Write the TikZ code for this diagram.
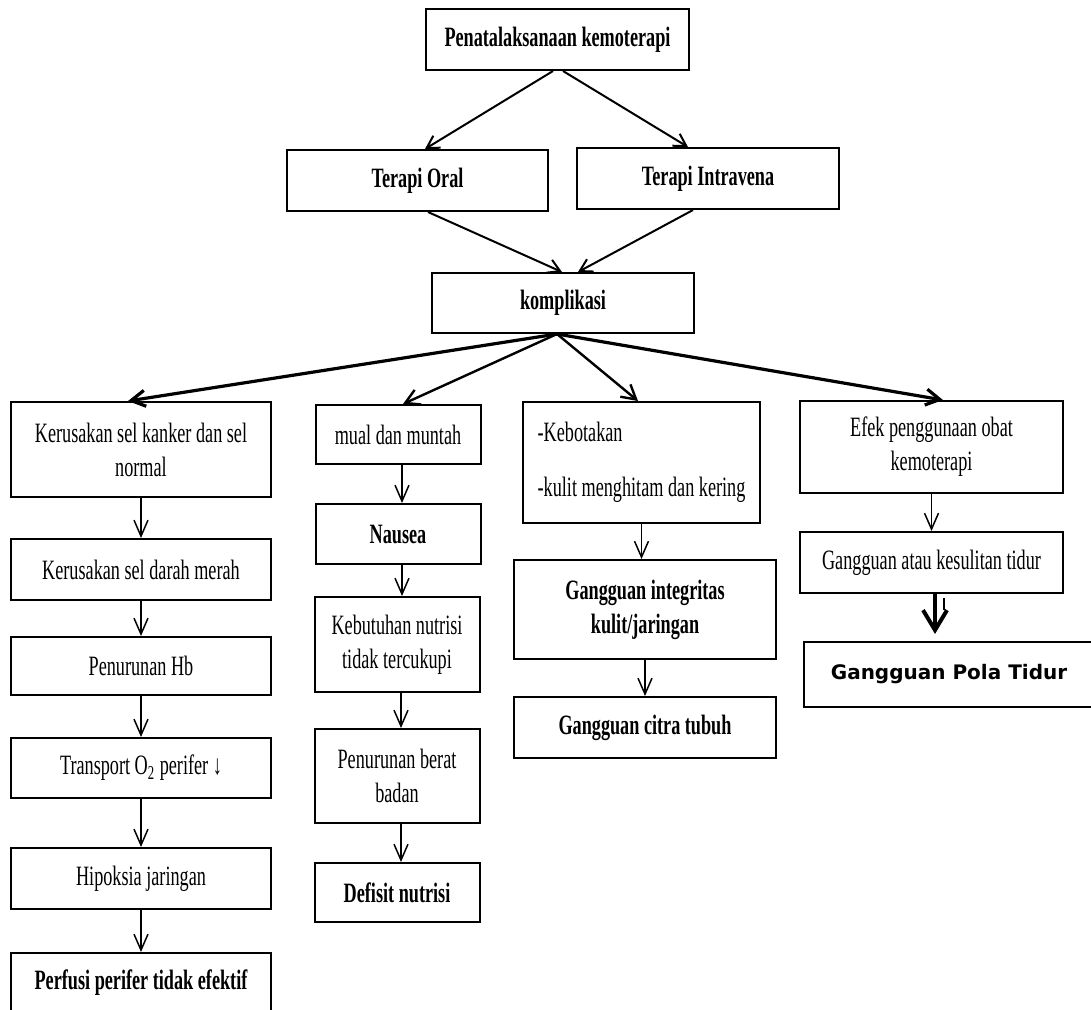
\documentclass[tikz,border=0pt]{standalone}
\usepackage{fontspec}
\setmainfont{Liberation Serif}[FakeStretch=0.65]
\newfontfamily\polafont{DejaVu Sans}
\usetikzlibrary{arrows.meta}

\tikzset{
  box/.style={draw, line width=1pt, inner sep=2pt, align=center, font=\fontsize{14}{17}\selectfont},
  boldbox/.style={box, font=\fontsize{14}{17}\selectfont\bfseries},
  thinarr/.style={-{Straight Barb[length=8pt,width=7pt]}, line width=0.75pt},
  toparr/.style={-{Straight Barb[length=6pt,width=7pt]}, line width=1pt},
  fanarr/.style={-{Straight Barb[length=7pt,width=8pt]}, line width=1.6pt},
  bigarr/.style={-{Straight Barb[length=10pt,width=12pt]}, line width=2pt}
}

\begin{document}
\begin{tikzpicture}[x=0.5pt, y=-0.5pt]
\useasboundingbox (0,0) rectangle (1091,1009);

% Nodes (top)
\node (title) at (557.5,39.5) [boldbox, minimum width=131.5pt, minimum height=30.5pt] {Penatalaksanaan kemoterapi};
\node (oral) at (417.5,180.5) [boldbox, minimum width=130.5pt, minimum height=30.5pt] {Terapi Oral};
\node (iv) at (708,178.5) [boldbox, minimum width=131pt, minimum height=30.5pt] {Terapi Intravena};
\node (komp) at (563,303) [boldbox, minimum width=131pt, minimum height=30pt] {komplikasi};

% Nodes (column 1)
\node (sel) at (141,449.5) [box, minimum width=130pt, minimum height=47.5pt] {Kerusakan sel kanker dan sel\\normal};
\node (darah) at (141,569.5) [box, minimum width=130pt, minimum height=30.5pt] {Kerusakan sel darah merah};
\node (hb) at (141,666) [box, minimum width=130pt, minimum height=29pt] {Penurunan Hb};
\node (trans) at (141,768) [box, minimum width=130pt, minimum height=30pt] {Transport O\textsubscript{2} perifer ↓};
\node (hip) at (141,878.5) [box, minimum width=130pt, minimum height=30.5pt] {Hipoksia jaringan};
\node (perf) at (141,983) [boldbox, minimum width=130pt, minimum height=30pt] {Perfusi perifer tidak efektif};

% Nodes (column 2)
\node (mual) at (398,434.5) [box, minimum width=82.5pt, minimum height=29.5pt] {mual dan muntah};
\node (naus) at (398,534) [boldbox, minimum width=82.5pt, minimum height=30pt] {Nausea};
\node (nutri) at (397,644.5) [box, minimum width=82.5pt, minimum height=47.5pt] {Kebutuhan nutrisi\\tidak tercukupi};
\node (berat) at (397,776) [box, minimum width=82.5pt, minimum height=47pt] {Penurunan berat\\badan};
\node (def) at (397,892.5) [boldbox, minimum width=82.5pt, minimum height=29.5pt] {Defisit nutrisi};

% Nodes (column 3)
\node (botak) at (641.5,462.5) [box, align=left, minimum width=118.5pt, minimum height=60.5pt] {-Kebotakan\\[10.5pt]-kulit menghitam dan kering};
\node (integ) at (645,609.5) [boldbox, minimum width=131pt, minimum height=49.5pt] {Gangguan integritas\\kulit/jaringan};
\node (citra) at (645,727.5) [boldbox, minimum width=131pt, minimum height=30.5pt] {Gangguan citra tubuh};

% Nodes (column 4)
\node (efek) at (931.5,447) [box, minimum width=131.5pt, minimum height=46pt] {Efek penggunaan obat\\kemoterapi};
\node (tidur) at (931.5,562.5) [box, minimum width=131.5pt, minimum height=30.5pt] {Gangguan atau kesulitan tidur};
\node (pola) at (949,674.5) [box, font=\polafont\fontsize{10}{12}\selectfont\bfseries, minimum width=145pt, minimum height=32.5pt] {Gangguan Pola Tidur};

% Top edges
\draw[toparr] ([xshift=-2.25pt]title.south) -- ([xshift=3.75pt]oral.north);
\draw[toparr] ([xshift=2.75pt]title.south) -- ([xshift=-10pt]iv.north);
\draw[toparr] ([xshift=5.25pt]oral.south) -- ([xshift=-0.5pt]komp.north);
\draw[toparr] ([xshift=-7.5pt]iv.south) -- ([xshift=7.5pt]komp.north);

% Edges from komplikasi
\draw[fanarr] ([xshift=-3pt]komp.south) -- ([xshift=-6.5pt]sel.north);
\draw[fanarr, line width=1.2pt] ([xshift=-3pt]komp.south) -- ([xshift=2.5pt]mual.north);
\draw[fanarr, line width=1.2pt] ([xshift=-3pt]komp.south) -- ([xshift=-1.75pt]botak.north);
\draw[fanarr] ([xshift=-3pt]komp.south) -- ([xshift=5.75pt]efek.north);

% Column edges
\draw[thinarr] (sel.south) -- (sel.south |- darah.north);
\draw[thinarr] (darah.south) -- (darah.south |- hb.north);
\draw[thinarr] (hb.south) -- (hb.south |- trans.north);
\draw[thinarr] (trans.south) -- (trans.south |- hip.north);
\draw[thinarr] (hip.south) -- (hip.south |- perf.north);

\draw[thinarr] ([xshift=2pt]mual.south) -- ([xshift=2pt]mual.south |- naus.north);
\draw[thinarr] ([xshift=2pt]naus.south) -- ([xshift=2pt]naus.south |- nutri.north);
\draw[thinarr] ([xshift=2pt]nutri.south) -- ([xshift=2pt]nutri.south |- berat.north);
\draw[thinarr] ([xshift=2pt]berat.south) -- ([xshift=2pt]berat.south |- def.north);

\draw[thinarr] (botak.south) -- (botak.south |- integ.north);
\draw[thinarr] (integ.south) -- (integ.south |- citra.north);

\draw[thinarr] (efek.south) -- (efek.south |- tidur.north);
\draw[bigarr, shorten >=3.5pt] ([xshift=1.75pt]tidur.south) -- ([xshift=1.75pt]tidur.south |- pola.north);

% Small tick beside the last arrow
\draw[line width=0.6pt] (944,598) -- (944,610);

\end{tikzpicture}
\end{document}
